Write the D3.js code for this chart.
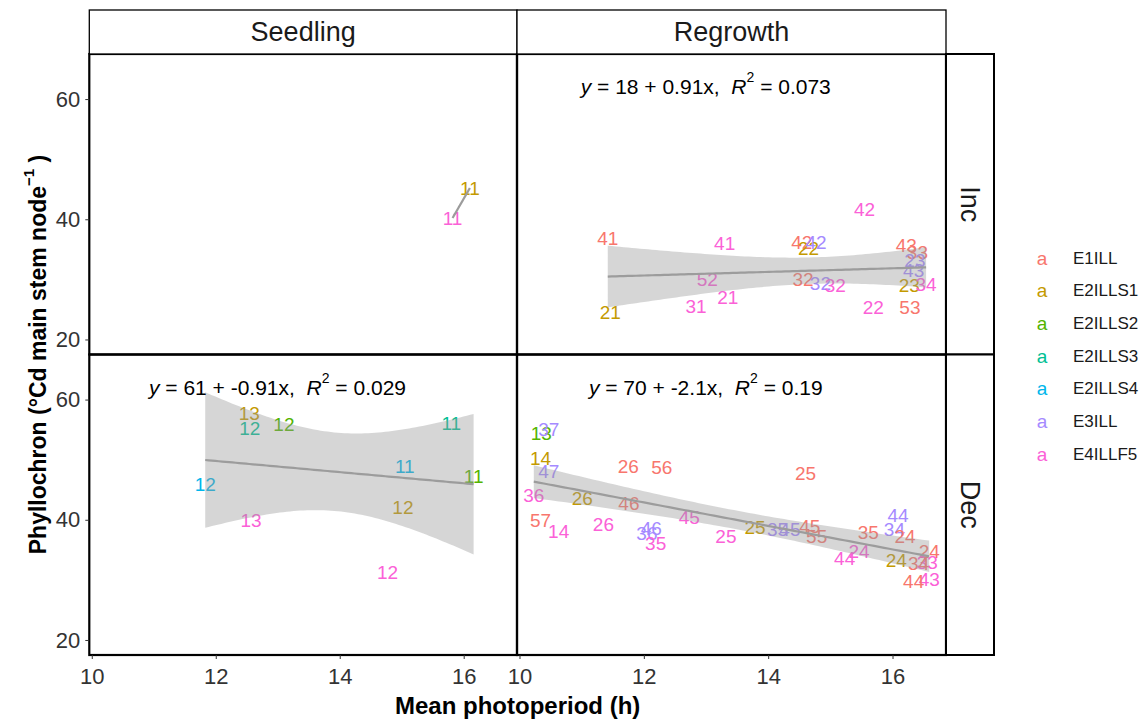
<!DOCTYPE html>
<html>
<head>
<meta charset="utf-8">
<script src="https://cdn.jsdelivr.net/npm/d3@7"></script>
<style>
  body { margin: 0; background: #fff; }
  svg { display: block; }
  text { font-family: "Liberation Sans", Arial, sans-serif; }
</style>
</head>
<body>
<svg id="chart" width="1148" height="719"></svg>
<script>
// ---- data ----------------------------------------------------------------
const stages = ["Seedling", "Regrowth"];
const trends = ["Inc", "Dec"];
const treatments = ["E1ILL", "E2ILLS1", "E2ILLS2", "E2ILLS3", "E2ILLS4", "E3ILL", "E4ILLF5"];
const treatmentColors = ["#F8766D", "#C49A00", "#53B400", "#00C094", "#00B6EB", "#A58AFF", "#FB61D7"];
const xTicks = [10, 12, 14, 16];
const yTicks = [20, 40, 60];

// Seedling, increasing photoperiod
const seedlingIncTreatment = ["E2ILLS1", "E4ILLF5"];
const seedlingIncLabel = ["11", "11"];
const seedlingIncPhotoperiod = [16.10, 15.82];
const seedlingIncPhyllochron = [45.2, 40.2];

// Seedling, decreasing photoperiod
const seedlingDecTreatment = ["E2ILLS1", "E2ILLS3", "E2ILLS2", "E2ILLS3", "E2ILLS4", "E2ILLS2", "E2ILLS4", "E2ILLS1", "E4ILLF5", "E4ILLF5"];
const seedlingDecLabel = ["13", "12", "12", "11", "11", "11", "12", "12", "13", "12"];
const seedlingDecPhotoperiod = [12.54, 12.55, 13.10, 15.80, 15.05, 16.16, 11.83, 15.02, 12.57, 14.77];
const seedlingDecPhyllochron = [57.7, 55.2, 55.9, 56.05, 48.8, 47.2, 45.9, 42.0, 39.8, 31.3];

// Regrowth, increasing photoperiod
const regrowthIncTreatment = ["E1ILL", "E2ILLS1", "E4ILLF5", "E4ILLF5", "E4ILLF5", "E4ILLF5", "E1ILL", "E2ILLS1", "E3ILL", "E1ILL", "E3ILL", "E4ILLF5", "E4ILLF5", "E4ILLF5", "E1ILL", "E1ILL", "E3ILL", "E3ILL", "E2ILLS1", "E4ILLF5", "E1ILL"];
const regrowthIncLabel = ["41", "21", "41", "52", "31", "21", "42", "22", "42", "32", "32", "32", "42", "22", "43", "33", "23", "43", "23", "34", "53"];
const regrowthIncPhotoperiod = [11.42, 11.46, 13.30, 13.02, 12.84, 13.35, 14.54, 14.65, 14.77, 14.56, 14.84, 15.08, 15.55, 15.69, 16.22, 16.40, 16.36, 16.34, 16.27, 16.54, 16.28];
const regrowthIncPhyllochron = [36.8, 24.55, 35.95, 29.95, 25.5, 27.05, 36.2, 35.1, 36.2, 29.95, 29.3, 28.9, 41.7, 25.4, 35.7, 34.4, 33.2, 31.5, 29.0, 29.1, 25.3];

// Regrowth, decreasing photoperiod
const regrowthDecTreatment = ["E2ILLS2", "E3ILL", "E2ILLS1", "E3ILL", "E4ILLF5", "E2ILLS1", "E1ILL", "E4ILLF5", "E1ILL", "E1ILL", "E1ILL", "E4ILLF5", "E3ILL", "E3ILL", "E4ILLF5", "E4ILLF5", "E4ILLF5", "E1ILL", "E2ILLS1", "E3ILL", "E3ILL", "E1ILL", "E1ILL", "E1ILL", "E3ILL", "E3ILL", "E1ILL", "E4ILLF5", "E4ILLF5", "E2ILLS1", "E1ILL", "E4ILLF5", "E1ILL", "E4ILLF5", "E1ILL"];
const regrowthDecLabel = ["13", "37", "14", "47", "36", "26", "57", "14", "26", "56", "46", "26", "36", "46", "35", "45", "25", "25", "25", "35", "45", "45", "55", "35", "44", "34", "24", "24", "44", "24", "24", "33", "34", "43", "44"];
const regrowthDecPhotoperiod = [10.35, 10.47, 10.34, 10.47, 10.23, 11.01, 10.34, 10.63, 11.75, 12.29, 11.76, 11.35, 12.05, 12.12, 12.19, 12.73, 13.32, 14.60, 13.79, 14.15, 14.35, 14.67, 14.78, 15.61, 16.09, 16.03, 16.20, 15.46, 15.23, 16.06, 16.59, 16.56, 16.42, 16.59, 16.34];
const regrowthDecPhyllochron = [54.4, 54.95, 50.2, 48.1, 44.1, 43.55, 39.95, 38.0, 48.8, 48.65, 42.7, 39.2, 37.7, 38.55, 36.05, 40.3, 37.2, 47.7, 38.7, 38.45, 38.4, 38.8, 37.3, 37.8, 40.7, 38.3, 37.2, 34.8, 33.6, 33.2, 34.8, 32.9, 32.7, 30.1, 29.8];

// fitted-equation annotations
const equationStage = ["Regrowth", "Seedling", "Regrowth"];
const equationTrend = ["Inc", "Dec", "Dec"];
const equationFit = ["18 + 0.91x", "61 + -0.91x", "70 + -2.1x"];
const equationR2 = ["0.073", "0.029", "0.19"];

// ---- assemble panel table ---------------------------------------------------
function rowsOf(treatment, label, x, y) {
  return treatment.map((t, i) => ({ treatment: t, label: label[i], x: x[i], y: y[i] }));
}
const panelData = {
  "Seedling|Inc": rowsOf(seedlingIncTreatment, seedlingIncLabel, seedlingIncPhotoperiod, seedlingIncPhyllochron),
  "Seedling|Dec": rowsOf(seedlingDecTreatment, seedlingDecLabel, seedlingDecPhotoperiod, seedlingDecPhyllochron),
  "Regrowth|Inc": rowsOf(regrowthIncTreatment, regrowthIncLabel, regrowthIncPhotoperiod, regrowthIncPhyllochron),
  "Regrowth|Dec": rowsOf(regrowthDecTreatment, regrowthDecLabel, regrowthDecPhotoperiod, regrowthDecPhyllochron)
};

// ---- statistics: ordinary least squares with 95% confidence band ------------
function lgamma(x) {
  const c = [76.18009172947146, -86.50532032941677, 24.01409824083091,
             -1.231739572450155, 0.1208650973866179e-2, -0.5395239384953e-5];
  let y = x, tmp = x + 5.5;
  tmp -= (x + 0.5) * Math.log(tmp);
  let ser = 1.000000000190015;
  for (let j = 0; j < 6; j++) ser += c[j] / ++y;
  return -tmp + Math.log(2.5066282746310005 * ser / x);
}
function tQuantile(p, df) {
  const k = Math.exp(lgamma((df + 1) / 2) - lgamma(df / 2)) / Math.sqrt(df * Math.PI);
  const dens = t => k * Math.pow(1 + t * t / df, -(df + 1) / 2);
  const cdf = t => {
    const n = 400, h = t / n;
    let s = dens(0) + dens(t);
    for (let i = 1; i < n; i++) s += dens(i * h) * (i % 2 ? 4 : 2);
    return 0.5 + s * h / 3;
  };
  let lo = 0, hi = 60;
  for (let i = 0; i < 60; i++) {
    const m = (lo + hi) / 2;
    if (cdf(m) < p) lo = m; else hi = m;
  }
  return (lo + hi) / 2;
}
function linearFit(pts) {
  const xs = pts.map(d => d.x), ys = pts.map(d => d.y);
  const n = xs.length, mx = d3.mean(xs), my = d3.mean(ys);
  let sxx = 0, sxy = 0;
  xs.forEach((x, i) => { sxx += (x - mx) ** 2; sxy += (x - mx) * (ys[i] - my); });
  const b = sxy / sxx, a = my - b * mx;
  let sse = 0;
  xs.forEach((x, i) => { sse += (ys[i] - a - b * x) ** 2; });
  const df = n - 2;
  const s = df > 0 ? Math.sqrt(sse / df) : NaN;
  const t = df > 0 ? tQuantile(0.975, df) : NaN;
  const [x0, x1] = d3.extent(xs);
  const curve = d3.range(80).map(i => {
    const x = x0 + (x1 - x0) * i / 79;
    const yhat = a + b * x;
    const se = s * Math.sqrt(1 / n + (x - mx) ** 2 / sxx);
    return { x, yhat, lo: yhat - t * se, hi: yhat + t * se };
  });
  return { curve, band: df > 0 };
}

// ---- layout ----------------------------------------------------------------
const svg = d3.select("#chart");
const colBounds = [[89.3, 517], [517, 946]];
const rowBounds = [[54, 354.5], [354.5, 655]];
const stripTop = 10, stripRight = 994;
const xDomain = [9.96, 16.86];
const yDomain = [17.5, 67.5];
const color = d3.scaleOrdinal().domain(treatments).range(treatmentColors);
const tickFont = 22;

const defs = svg.append("defs");

stages.forEach((stage, ci) => {
  const [x0, x1] = colBounds[ci];
  const w = x1 - x0;
  const x = d3.scaleLinear().domain(xDomain).range([0, w]);

  trends.forEach((trend, ri) => {
    const [y0, y1] = rowBounds[ri];
    const h = y1 - y0;
    const y = d3.scaleLinear().domain(yDomain).range([h, 0]);
    const pts = panelData[stage + "|" + trend];
    const clipId = "clip-" + stage + "-" + trend;
    defs.append("clipPath").attr("id", clipId)
      .append("rect").attr("width", w).attr("height", h);

    const g = svg.append("g").attr("transform", `translate(${x0},${y0})`);
    const inner = g.append("g").attr("clip-path", `url(#${clipId})`);

    // treatment/plot labels at each observation
    inner.selectAll("text.obs").data(pts).join("text")
      .attr("class", "obs")
      .attr("x", d => x(d.x))
      .attr("y", d => y(d.y))
      .attr("text-anchor", "middle")
      .attr("dominant-baseline", "central")
      .attr("font-size", 19)
      .attr("fill", d => color(d.treatment))
      .text(d => d.label);

    // linear fit with confidence band
    const fit = linearFit(pts);
    if (fit.band) {
      inner.append("path")
        .datum(fit.curve)
        .attr("fill", "#999999")
        .attr("fill-opacity", 0.4)
        .attr("d", d3.area().x(d => x(d.x)).y0(d => y(d.lo)).y1(d => y(d.hi)));
    }
    inner.append("path")
      .datum(fit.curve)
      .attr("fill", "none")
      .attr("stroke", "#9c9c9c")
      .attr("stroke-width", 2.2)
      .attr("d", d3.line().x(d => x(d.x)).y(d => y(d.yhat)));

    // equation annotation
    equationStage.forEach((s, k) => {
      if (s !== stage || equationTrend[k] !== trend) return;
      const t = g.append("text")
        .attr("x", w * 0.44)
        .attr("y", 32)
        .attr("text-anchor", "middle")
        .attr("dominant-baseline", "central")
        .attr("font-size", 21)
        .attr("fill", "#000")
        .attr("xml:space", "preserve")
        .style("white-space", "pre");
      t.append("tspan").attr("font-style", "italic").text("y");
      t.append("tspan").text(" = " + equationFit[k] + ",  ");
      t.append("tspan").attr("font-style", "italic").text("R");
      t.append("tspan").attr("font-size", 14).attr("dy", -9).text("2");
      t.append("tspan").attr("dy", 9).text(" = " + equationR2[k]);
    });

    // panel border
    g.append("rect")
      .attr("width", w).attr("height", h)
      .attr("fill", "none").attr("stroke", "#000").attr("stroke-width", 2.2);

    // y axis on the first column
    if (ci === 0) {
      const ax = g.append("g").call(d3.axisLeft(y).tickValues(yTicks).tickSize(4).tickPadding(5).tickFormat(d3.format("d")));
      ax.select(".domain").remove();
      ax.selectAll(".tick line").attr("stroke", "#333");
      ax.selectAll(".tick text").attr("font-size", tickFont).attr("fill", "#333")
        .attr("font-family", "Liberation Sans, Arial, sans-serif");
    }
    // x axis on the bottom row
    if (ri === 1) {
      const ax = g.append("g").attr("transform", `translate(0,${h})`)
        .call(d3.axisBottom(x).tickValues(xTicks).tickSize(4).tickPadding(9).tickFormat(d3.format("d")));
      ax.select(".domain").remove();
      ax.selectAll(".tick line").attr("stroke", "#333");
      ax.selectAll(".tick text").attr("font-size", tickFont).attr("fill", "#333")
        .attr("font-family", "Liberation Sans, Arial, sans-serif");
    }
  });

  // column strip
  svg.append("rect")
    .attr("x", x0).attr("y", stripTop).attr("width", w).attr("height", rowBounds[0][0] - stripTop)
    .attr("fill", "#fff").attr("stroke", "#000").attr("stroke-width", 1.3);
  svg.append("text")
    .attr("x", x0 + w / 2).attr("y", (stripTop + rowBounds[0][0]) / 2)
    .attr("text-anchor", "middle").attr("dominant-baseline", "central")
    .attr("font-size", 27).attr("fill", "#1a1a1a")
    .text(stage);
});

// row strips
trends.forEach((trend, ri) => {
  const [y0, y1] = rowBounds[ri];
  const x0 = colBounds[1][1];
  svg.append("rect")
    .attr("x", x0).attr("y", y0).attr("width", stripRight - x0).attr("height", y1 - y0)
    .attr("fill", "#fff").attr("stroke", "#000").attr("stroke-width", 2);
  svg.append("text")
    .attr("transform", `translate(${(x0 + stripRight) / 2},${(y0 + y1) / 2}) rotate(90)`)
    .attr("text-anchor", "middle").attr("dominant-baseline", "central")
    .attr("font-size", 27).attr("fill", "#1a1a1a")
    .text(trend);
});

// axis titles
svg.append("text")
  .attr("x", (colBounds[0][0] + colBounds[1][1]) / 2).attr("y", 705)
  .attr("text-anchor", "middle").attr("dominant-baseline", "central")
  .attr("font-size", 24).attr("font-weight", "bold")
  .text("Mean photoperiod (h)");

const yTitle = svg.append("text")
  .attr("transform", `translate(38,${(rowBounds[0][0] + rowBounds[1][1]) / 2}) rotate(-90)`)
  .attr("text-anchor", "middle").attr("dominant-baseline", "central")
  .attr("font-size", 23).attr("font-weight", "bold");
yTitle.append("tspan").text("Phyllochron (\u00B0Cd main stem node");
yTitle.append("tspan").attr("font-size", 15).attr("dy", -10).text("\u22121");
yTitle.append("tspan").attr("dy", 10).text(" )");

// legend
const legend = svg.append("g");
treatments.forEach((t, i) => {
  const cy = 258 + i * 32.7;
  legend.append("text")
    .attr("x", 1042).attr("y", cy)
    .attr("text-anchor", "middle").attr("dominant-baseline", "central")
    .attr("font-size", 19).attr("fill", color(t))
    .text("a");
  legend.append("text")
    .attr("x", 1073).attr("y", cy)
    .attr("dominant-baseline", "central")
    .attr("font-size", 17).attr("fill", "#1a1a1a")
    .text(t);
});
</script>
</body>
</html>
